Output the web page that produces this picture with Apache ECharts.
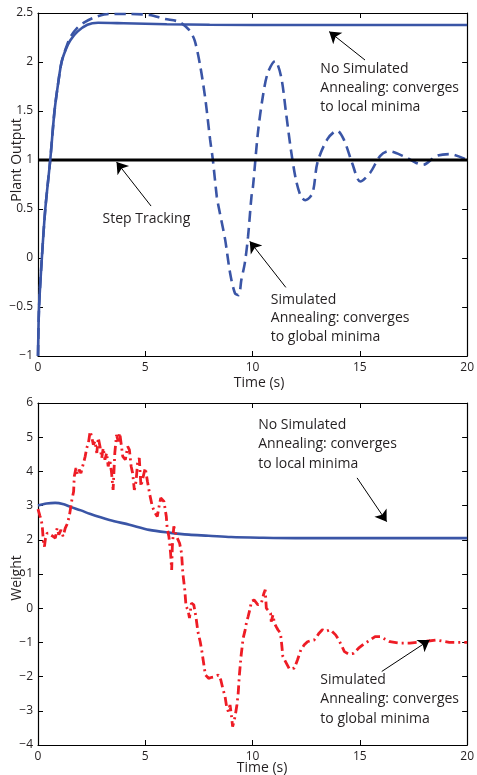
<!DOCTYPE html>
<html><head><meta charset="utf-8">
<script src="https://cdn.jsdelivr.net/npm/echarts@6/dist/echarts.min.js"></script>
<style>html,body{margin:0;padding:0;background:#fff}#c{width:477px;height:775px}</style>
</head><body><div id="c"></div>
<script>
// ---------- data ----------
const xTicks = [0, 5, 10, 15, 20];
const topYTicks = [-1, -0.5, 0, 0.5, 1, 1.5, 2, 2.5];
const botYTicks = [-4, -3, -2, -1, 0, 1, 2, 3, 4, 5, 6];

// top: no simulated annealing (solid blue)
const topSolidT = [0, 0.05, 0.18, 0.34, 0.57, 0.77, 0.95, 1.1, 1.3, 1.5, 1.84, 2.3, 2.8, 4, 6, 8, 12, 16, 20];
const topSolidY = [-1, -0.5, 0, 0.5, 1.0, 1.5, 1.8, 2.0, 2.13, 2.22, 2.31, 2.38, 2.40, 2.395, 2.385, 2.38, 2.377, 2.377, 2.377];

// top: simulated annealing (dashed blue)
const topDashT = [0, 0.05, 0.18, 0.34, 0.57, 0.77, 0.95, 1.1, 1.3, 1.5, 1.84, 2.2, 2.7, 3.3, 4.2, 5.2, 5.9, 6.57, 7.03, 7.3, 7.56, 7.8, 8.02, 8.15, 8.33, 8.41, 8.72, 8.95, 9.18, 9.35, 9.48, 9.64, 9.79, 9.95, 10.02, 10.25, 10.48, 10.71, 11.05, 11.33, 11.56, 11.79, 12.02, 12.25, 12.45, 12.79, 13.02, 13.48, 13.94, 14.25, 14.64, 15.02, 15.48, 15.94, 16.33, 17.02, 17.63, 17.94, 18.56, 19.17, 20];
const topDashY = [-1, -0.5, 0, 0.5, 1.0, 1.5, 1.8, 2.0, 2.14, 2.25, 2.35, 2.41, 2.46, 2.49, 2.49, 2.48, 2.44, 2.41, 2.33, 2.22, 1.96, 1.62, 1.21, 1.0, 0.63, 0.53, 0.19, -0.15, -0.36, -0.38, -0.22, -0.05, 0.22, 0.63, 0.73, 1.28, 1.65, 1.89, 2.01, 1.85, 1.48, 1.1, 0.8, 0.63, 0.59, 0.66, 0.97, 1.21, 1.3, 1.21, 0.97, 0.78, 0.87, 1.04, 1.09, 1.04, 0.97, 0.95, 1.04, 1.06, 1.0];

// top: step reference
const stepT = [0, 20];
const stepY = [1, 1];

// bottom: no simulated annealing weight (solid blue)
const botSolidT = [0, 0.4, 0.8, 1.2, 1.49, 2.0, 2.41, 3.33, 4.26, 5.18, 6.1, 7.03, 7.95, 9.0, 10.5, 12, 15, 20];
const botSolidY = [3.0, 3.06, 3.08, 3.04, 2.97, 2.86, 2.76, 2.58, 2.44, 2.29, 2.21, 2.15, 2.12, 2.08, 2.06, 2.05, 2.05, 2.05];

// bottom: simulated annealing weight (red dash-dot)
const botRedT = [0, 0.05, 0.09, 0.15, 0.2, 0.25, 0.3, 0.35, 0.43, 0.58, 0.7, 0.81, 0.89, 0.97, 1.07, 1.17, 1.27, 1.38, 1.47, 1.58, 1.66, 1.69, 1.77, 1.85, 1.92, 2.0, 2.12, 2.2, 2.27, 2.35, 2.43, 2.5, 2.58, 2.66, 2.74, 2.81, 2.89, 2.97, 3.04, 3.12, 3.2, 3.27, 3.35, 3.43, 3.5, 3.58, 3.66, 3.74, 3.81, 3.87, 3.95, 4.07, 4.18, 4.26, 4.34, 4.41, 4.49, 4.57, 4.64, 4.72, 4.8, 4.87, 5.0, 5.1, 5.21, 5.33, 5.46, 5.56, 5.64, 5.72, 5.87, 5.98, 6.02, 6.1, 6.18, 6.23, 6.26, 6.33, 6.41, 6.49, 6.6, 6.69, 6.75, 6.84, 6.9, 6.99, 7.06, 7.15, 7.26, 7.36, 7.45, 7.56, 7.64, 7.72, 7.8, 7.95, 8.1, 8.26, 8.41, 8.52, 8.61, 8.72, 8.79, 8.87, 8.95, 9.02, 9.07, 9.15, 9.21, 9.27, 9.33, 9.38, 9.46, 9.56, 9.64, 9.71, 9.79, 9.87, 9.95, 10.07, 10.25, 10.41, 10.53, 10.59, 10.64, 10.72, 10.84, 10.87, 10.95, 11.02, 11.1, 11.18, 11.3, 11.36, 11.41, 11.49, 11.72, 11.95, 12.1, 12.25, 12.41, 12.56, 12.71, 12.87, 12.99, 13.1, 13.25, 13.4, 13.63, 13.71, 13.87, 14.02, 14.17, 14.28, 14.48, 14.71, 14.94, 15.18, 15.48, 15.71, 15.94, 16.4, 16.86, 17.33, 17.94, 18.56, 19.17, 20];
const botRedY = [2.9, 2.88, 2.7, 2.59, 2.39, 1.95, 1.8, 2.05, 2.2, 2.15, 2.1, 2.05, 2.34, 2.15, 2.29, 2.1, 2.34, 2.49, 2.73, 3.17, 3.41, 3.85, 4.1, 3.9, 4.05, 3.95, 4.24, 4.44, 4.68, 4.83, 5.17, 5.02, 4.78, 4.88, 4.54, 4.98, 4.73, 4.39, 4.68, 4.34, 4.54, 4.15, 4.34, 3.95, 3.46, 4.54, 5.07, 4.88, 5.12, 4.83, 4.44, 4.34, 4.73, 4.63, 4.15, 3.95, 3.46, 3.71, 4.24, 4.39, 3.56, 3.76, 4.1, 3.71, 3.32, 2.97, 2.78, 2.68, 2.97, 3.22, 3.12, 2.68, 2.34, 2.1, 1.61, 1.12, 1.8, 2.39, 2.2, 2.05, 1.9, 1.61, 1.02, 0.54, 0.05, -0.05, -0.29, 0.15, 0.1, -0.25, -0.68, -0.98, -1.27, -1.61, -1.95, -2.05, -2.02, -2.0, -1.95, -2.1, -2.34, -2.59, -2.88, -3.02, -2.83, -3.17, -3.46, -3.27, -3.07, -2.83, -2.49, -2.0, -1.42, -0.88, -0.68, -0.44, -0.25, -0.05, 0.2, 0.24, 0.1, 0.15, 0.44, 0.54, 0.0, -0.05, -0.15, -0.39, -0.2, -0.44, -0.54, -0.63, -0.73, -1.07, -1.41, -1.51, -1.78, -1.75, -1.5, -1.22, -1.07, -0.98, -0.95, -0.93, -0.83, -0.73, -0.63, -0.68, -0.63, -0.6, -0.78, -0.93, -1.12, -1.27, -1.34, -1.32, -1.17, -1.05, -0.93, -0.83, -0.83, -0.98, -1.02, -1.02, -0.98, -0.93, -1.0, -1.0];

// annotation texts and arrows (data coordinates: text block top-left, [tail, head])
const topNotes = [
  {text: 'No Simulated\nAnnealing: converges\nto local minima', at: [13.16, 2.03], lh: 19, tail: [15.24, 2.02], head: [13.57, 2.31]},
  {text: 'Step Tracking', at: [3.01, 0.49], lh: 19, tail: [5.27, 0.53], head: [3.66, 0.98]},
  {text: 'Simulated\nAnnealing: converges\nto global minima', at: [10.85, -0.33], lh: 18.5, tail: [11.55, -0.30], head: [9.87, 0.17]}
];
const botNotes = [
  {text: 'No Simulated\nAnnealing: converges\nto local minima', at: [10.26, 5.65], lh: 19.5, tail: [14.87, 3.81], head: [16.25, 2.53]},
  {text: 'Simulated\nAnnealing: converges\nto global minima', at: [13.16, -1.81], lh: 19.6, tail: [16.02, -1.85], head: [18.25, -0.93]}
];

// ---------- chart ----------
const zip = (a, b) => a.map((v, i) => [v, b[i]]);
const TXT = '#231f20';
const FONT = 'Open Sans';
const BLUE = '#3a55a6';
const RED = '#ee1c25';
const fmt = v => String(v).replace('-', '\u2212');

function xAx(grid, pos, labels) {
  return {
    type: 'value', gridIndex: grid, position: pos, min: 0, max: 20, interval: 5,
    axisLine: {show: true, onZero: false, lineStyle: {color: '#000', width: 1.2}},
    axisTick: {show: true, inside: true, length: 5, lineStyle: {color: '#000'}},
    axisLabel: {show: labels, color: TXT, fontFamily: FONT, fontSize: 12, margin: 6, formatter: fmt},
    splitLine: {show: false}
  };
}
function yAx(grid, pos, labels, mn, mx, iv) {
  return {
    type: 'value', gridIndex: grid, position: pos, min: mn, max: mx, interval: iv,
    axisLine: {show: true, onZero: false, lineStyle: {color: '#000', width: 1.2}},
    axisTick: {show: true, inside: true, length: 5, lineStyle: {color: '#000'}},
    axisLabel: {show: labels, color: TXT, fontFamily: FONT, fontSize: 12, margin: 5, formatter: fmt},
    splitLine: {show: false}
  };
}

const arrowSeries = (notes, xi, yi) => ({
  type: 'lines', coordinateSystem: 'cartesian2d', xAxisIndex: xi, yAxisIndex: yi,
  symbol: ['none', 'arrow'], symbolSize: [7, 11], silent: true, z: 10,
  lineStyle: {color: '#000', width: 1, opacity: 1},
  data: notes.map(n => ({coords: [n.tail, n.head]}))
});

const chart = echarts.init(document.getElementById('c'), null, {renderer: 'canvas'});
const option = {
  animation: false,
  backgroundColor: '#fff',
  grid: [
    {left: 38, top: 13, width: 433, height: 343},
    {left: 38, top: 403, width: 433, height: 342}
  ],
  xAxis: [xAx(0, 'bottom', true), xAx(0, 'top', false), xAx(1, 'bottom', true), xAx(1, 'top', false)],
  yAxis: [yAx(0, 'left', true, -1, 2.5, 0.5), yAx(0, 'right', false, -1, 2.5, 0.5),
          yAx(1, 'left', true, -4, 6, 1), yAx(1, 'right', false, -4, 6, 1)],
  series: [
    {type: 'line', xAxisIndex: 0, yAxisIndex: 0, data: zip(topDashT, topDashY), showSymbol: false, smooth: 0.3,
     lineStyle: {color: BLUE, width: 2.6, type: [11, 6]}},
    {type: 'line', xAxisIndex: 0, yAxisIndex: 0, data: zip(stepT, stepY), showSymbol: false,
     lineStyle: {color: '#000', width: 3}},
    {type: 'line', xAxisIndex: 0, yAxisIndex: 0, data: zip(topSolidT, topSolidY), showSymbol: false, smooth: 0.3,
     lineStyle: {color: BLUE, width: 2.6}},
    {type: 'line', xAxisIndex: 2, yAxisIndex: 2, data: zip(botSolidT, botSolidY), showSymbol: false, smooth: 0.3,
     lineStyle: {color: BLUE, width: 2.6}},
    {type: 'line', xAxisIndex: 2, yAxisIndex: 2, data: zip(botRedT, botRedY), showSymbol: false,
     lineStyle: {color: RED, width: 2.8, type: [9, 4, 2, 4]}},
    arrowSeries(topNotes, 0, 0),
    arrowSeries(botNotes, 2, 2)
  ]
};
chart.setOption(option);

// text elements positioned from data coordinates
const g = [];
const NOTE_FONT = '14px "Open Sans"';
topNotes.forEach(n => {
  const p = chart.convertToPixel({xAxisIndex: 0, yAxisIndex: 0}, n.at);
  g.push({type: 'text', left: p[0], top: p[1], z: 20,
    style: {text: n.text, fill: TXT, font: NOTE_FONT, lineHeight: n.lh}});
});
botNotes.forEach(n => {
  const p = chart.convertToPixel({xAxisIndex: 2, yAxisIndex: 2}, n.at);
  g.push({type: 'text', left: p[0], top: p[1], z: 20,
    style: {text: n.text, fill: TXT, font: NOTE_FONT, lineHeight: n.lh}});
});
// axis titles
g.push({type: 'text', x: 17, y: 160, rotation: Math.PI / 2, z: 20,
  style: {text: 'Plant Output', fill: TXT, font: NOTE_FONT, textAlign: 'center', textVerticalAlign: 'middle'}});
g.push({type: 'text', x: 17, y: 578, rotation: Math.PI / 2, z: 20,
  style: {text: 'Weight', fill: TXT, font: NOTE_FONT, textAlign: 'center', textVerticalAlign: 'middle'}});
g.push({type: 'text', x: 259, y: 383, z: 20,
  style: {text: 'Time (s)', fill: TXT, font: NOTE_FONT, textAlign: 'center', textVerticalAlign: 'middle'}});
g.push({type: 'text', x: 262, y: 768, z: 20,
  style: {text: 'Time (s)', fill: TXT, font: NOTE_FONT, textAlign: 'center', textVerticalAlign: 'middle'}});
chart.setOption({graphic: g});
</script>
</body></html>
